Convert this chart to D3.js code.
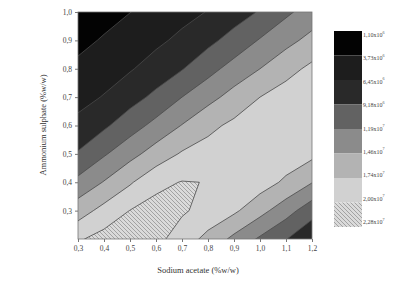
<!DOCTYPE html>
<html><head><meta charset="utf-8">
<script src="https://cdn.jsdelivr.net/npm/d3@7"></script>
<style>
html,body{margin:0;padding:0;background:#fff;}
svg{display:block;font-family:"Liberation Serif","DejaVu Serif",serif;}
</style></head>
<body><svg id="c" width="396" height="283"></svg>
<script>
// grid axes (data values)
const xVals = [0.3,0.4,0.5,0.6,0.7,0.8,0.9,1.0,1.1,1.2];
const yVals = [0.2,0.3,0.4,0.5,0.6,0.7,0.8,0.9,1.0];
// response values (x10^6), rows = yVals (bottom to top), cols = xVals
const row02 = [19.7,20.9,21.3,20.7,18.86,16.6,13.9,11.5,9.3,6.8];
const row03 = [16.1,18.3,20.05,20.8,20.3,19.2,17.9,15.5,13.0,10.3];
const row04 = [12.6,14.75,17.1,19.4,20.1,19.95,19.4,18.7,16.9,14.7];
const row05 = [9.43,11.6,13.7,15.8,17.7,18.5,19.3,19.4,19.0,18.1];
const row06 = [7.15,8.73,10.7,12.7,14.7,16.7,18.0,19.0,19.5,19.3];
const row07 = [5.57,6.6,8.15,9.82,11.9,13.7,15.6,17.4,18.7,19.4];
const row08 = [4.28,5.26,6.22,7.59,9.04,11.0,12.9,14.6,16.4,18.05];
const row09 = [3.05,3.97,4.96,5.9,7.06,8.49,10.2,12.1,13.8,15.4];
const row10 = [2.0,2.84,3.69,4.66,5.6,6.56,7.9,9.4,11.4,13.1];
// contour levels (x10^6) and legend labels
const levels = [1.10,3.73,6.45,9.18,11.9,14.6,17.4,20.0,22.8];
const levelLabels = [["1,10x10","6"],["3,73x10","6"],["6,45x10","6"],["9,18x10","6"],["1,19x10","7"],["1,46x10","7"],["1,74x10","7"],["2,00x10","7"],["2,28x10","7"]];
const xTicks = [0.3,0.4,0.5,0.6,0.7,0.8,0.9,1.0,1.1,1.2];
const yTicks = [0.3,0.4,0.5,0.6,0.7,0.8,0.9,1.0];
const bandFills = ["#030303","#1d1d1d","#292929","#626262","#8b8b8b","#b3b3b3","#d1d1d1","url(#hatch)"];

const rows = [row02,row03,row04,row05,row06,row07,row08,row09,row10];
const values = rows.flat();
const nx = xVals.length, ny = yVals.length;

const svg = d3.select("#c");
const L = 78, R = 312, T = 12, B = 239;
const x = d3.scaleLinear([0.3,1.2],[L,R]);
const y = d3.scaleLinear([0.2,1.0],[B,T]);
const gx = d3.scaleLinear([0.5, nx-0.5],[xVals[0], xVals[nx-1]]);
const gy = d3.scaleLinear([0.5, ny-0.5],[yVals[0], yVals[ny-1]]);

const defs = svg.append("defs");
const pat = defs.append("pattern").attr("id","hatch").attr("patternUnits","userSpaceOnUse")
  .attr("width",4).attr("height",4);
pat.append("rect").attr("width",4).attr("height",4).attr("fill","#dadada");
pat.append("path").attr("d","M-1,-1L5,5M-1,3L1,5M3,-1L5,1").attr("stroke","#9c9c9c").attr("stroke-width",0.9);
defs.append("clipPath").attr("id","clip").append("rect")
  .attr("x",L).attr("y",T).attr("width",R-L).attr("height",B-T);

const contours = d3.contours().size([nx,ny]).thresholds(levels)(values);
const proj = d3.geoTransform({point(px,py){ this.stream.point(x(gx(px)), y(gy(py))); }});
const path = d3.geoPath(proj);

const g = svg.append("g").attr("clip-path","url(#clip)");
g.selectAll("path.fill").data(contours.filter((c,i)=>i<bandFills.length)).join("path")
  .attr("class","fill").attr("d",path)
  .attr("fill",(d,i)=>bandFills[i]).attr("stroke","none");
g.selectAll("path.line").data(contours.filter((c,i)=>i>0 && i<bandFills.length)).join("path")
  .attr("class","line").attr("d",path)
  .attr("fill","none").attr("stroke","#4a4a4a").attr("stroke-width",0.8);

svg.append("rect").attr("x",L).attr("y",T).attr("width",R-L).attr("height",B-T)
  .attr("fill","none").attr("stroke","#777").attr("stroke-width",0.8);

// axes
const xa = svg.append("g").attr("transform",`translate(0,${B})`)
  .call(d3.axisBottom(x).tickValues(xTicks).tickSize(3).tickPadding(4)
    .tickFormat(d=>d3.format(".1f")(d).replace(".",",")));
const ya = svg.append("g").attr("transform",`translate(${L},0)`)
  .call(d3.axisLeft(y).tickValues(yTicks).tickSize(3).tickPadding(3)
    .tickFormat(d=>d3.format(".1f")(d).replace(".",",")));
[xa,ya].forEach(a=>{
  a.select(".domain").remove();
  a.selectAll("line").attr("stroke","#777");
  a.selectAll("text").attr("font-family","Liberation Serif, serif").attr("font-size",7.5).attr("fill","#444");
});

svg.append("text").attr("x",198).attr("y",273).attr("text-anchor","middle")
  .attr("font-size",8.5).attr("fill","#333").text("Sodium acetate (%w/w)");
svg.append("text").attr("transform","translate(46,125) rotate(-90)").attr("text-anchor","middle")
  .attr("font-size",8.5).attr("fill","#333").text("Ammonium sulphate (%w/w)");

// legend
const lg = svg.append("g");
const ly = d3.scaleLinear([0, bandFills.length],[31,227]);
lg.selectAll("rect").data(bandFills).join("rect")
  .attr("x",334).attr("width",28)
  .attr("y",(d,i)=>ly(i)).attr("height",(d,i)=>ly(i+1)-ly(i))
  .attr("fill",d=>d);
const lt = d3.scaleLinear([0, levels.length-1],[35,222]);
const txt = lg.selectAll("text").data(levelLabels).join("text")
  .attr("x",363).attr("y",(d,i)=>lt(i)).attr("dy","0.35em")
  .attr("font-size",6).attr("fill","#444");
txt.append("tspan").text(d=>d[0]);
txt.append("tspan").attr("font-size",4).attr("dy","-0.9em").text(d=>d[1]);
</script>
</body></html>
